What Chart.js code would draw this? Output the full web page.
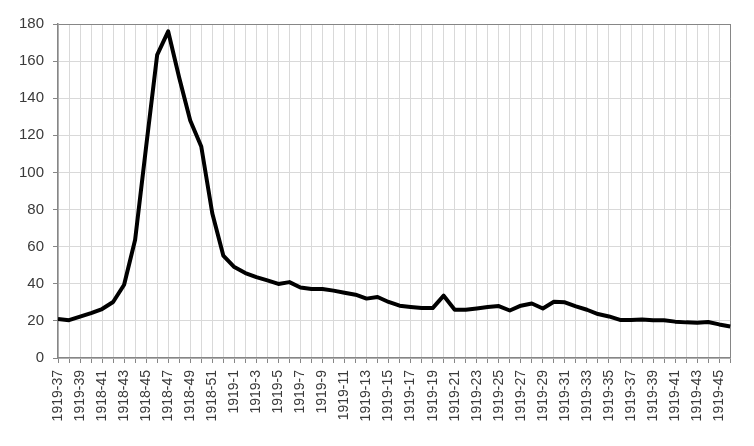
<!DOCTYPE html>
<html>
<head>
<meta charset="utf-8">
<script src="https://cdn.jsdelivr.net/npm/chart.js@4/dist/chart.umd.min.js"></script>
<style>
html,body{margin:0;padding:0;background:#fff;}
#wrap{width:754px;height:446px;}
</style>
</head>
<body>
<div id="wrap"><canvas id="c" width="754" height="446"></canvas></div>
<script>
const weeks = [
  "1919-37","1918-38","1919-39","1918-40","1918-41","1918-42","1918-43","1918-44",
  "1918-45","1918-46","1918-47","1918-48","1918-49","1918-50","1918-51","1918-52",
  "1919-1","1919-2","1919-3","1919-4","1919-5","1919-6","1919-7","1919-8","1919-9","1919-10",
  "1919-11","1919-12","1919-13","1919-14","1919-15","1919-16","1919-17","1919-18","1919-19","1919-20",
  "1919-21","1919-22","1919-23","1919-24","1919-25","1919-26","1919-27","1919-28","1919-29","1919-30",
  "1919-31","1919-32","1919-33","1919-34","1919-35","1919-36","1919-37","1919-38","1919-39","1919-40",
  "1919-41","1919-42","1919-43","1919-44","1919-45","1919-46"
];
const deaths = [
  21.0, 20.4, 22.3, 24.2, 26.4, 30.2, 39.5, 63.7,
  114, 163.4, 176, 151, 128, 114, 78, 55.2,
  49.0, 45.8, 43.6, 41.8, 39.9, 40.9, 38.0, 37.2, 37.2, 36.3,
  35.2, 34.1, 32.0, 32.9, 30.2, 28.2, 27.5, 26.9, 26.9, 33.6,
  26.0, 26.0, 26.7, 27.5, 28.0, 25.6, 28.2, 29.4, 26.7, 30.3,
  30.0, 27.8, 26.0, 23.7, 22.4, 20.5, 20.5, 20.8, 20.3, 20.3,
  19.6, 19.2, 19.0, 19.4, 18.1, 17.0
];
const yMin = 0, yMax = 180, yStep = 20;

const gridLight = '#d9d9d9';
const axisDark = '#868686';
const textCol = '#3a3a3a';

new Chart(document.getElementById('c'), {
  type: 'line',
  data: {
    labels: weeks,
    datasets: [{
      data: deaths,
      borderColor: '#000',
      borderWidth: 4,
      pointRadius: 0,
      tension: 0,
      fill: false,
      borderJoinStyle: 'round'
    }]
  },
  options: {
    responsive: false,
    animation: false,
    devicePixelRatio: 1,
    layout: { padding: { top: 24, right: 22, left: 0, bottom: 0 } },
    plugins: { legend: { display: false }, tooltip: { enabled: false } },
    scales: {
      x: {
        offset: false,
        grid: {
          color: ctx => ctx.index === weeks.length - 1 ? axisDark : gridLight,
          lineWidth: 1,
          drawTicks: true,
          tickLength: 5,
          tickColor: axisDark
        },
        border: { display: true, color: axisDark, width: 1.5 },
        ticks: {
          autoSkip: false,
          maxRotation: 90,
          minRotation: 90,
          padding: 7,
          color: textCol,
          font: { family: '"Liberation Sans", Arial, sans-serif', size: 14 },
          callback: function(v, i) { return i % 2 === 0 ? weeks[i] : ''; }
        },
        afterFit: s => { s.height = 88; }
      },
      y: {
        min: yMin, max: yMax,
        grid: {
          color: ctx => ctx.tick && ctx.tick.value === yMax ? axisDark : gridLight,
          lineWidth: 1,
          drawTicks: true,
          tickLength: 5,
          tickColor: axisDark
        },
        border: { display: true, color: axisDark, width: 1.5 },
        ticks: {
          stepSize: yStep,
          padding: 9,
          color: textCol,
          font: { family: '"Liberation Sans", Arial, sans-serif', size: 15 }
        },
        afterFit: s => { s.width = 58; }
      }
    }
  }
});
</script>
</body>
</html>
